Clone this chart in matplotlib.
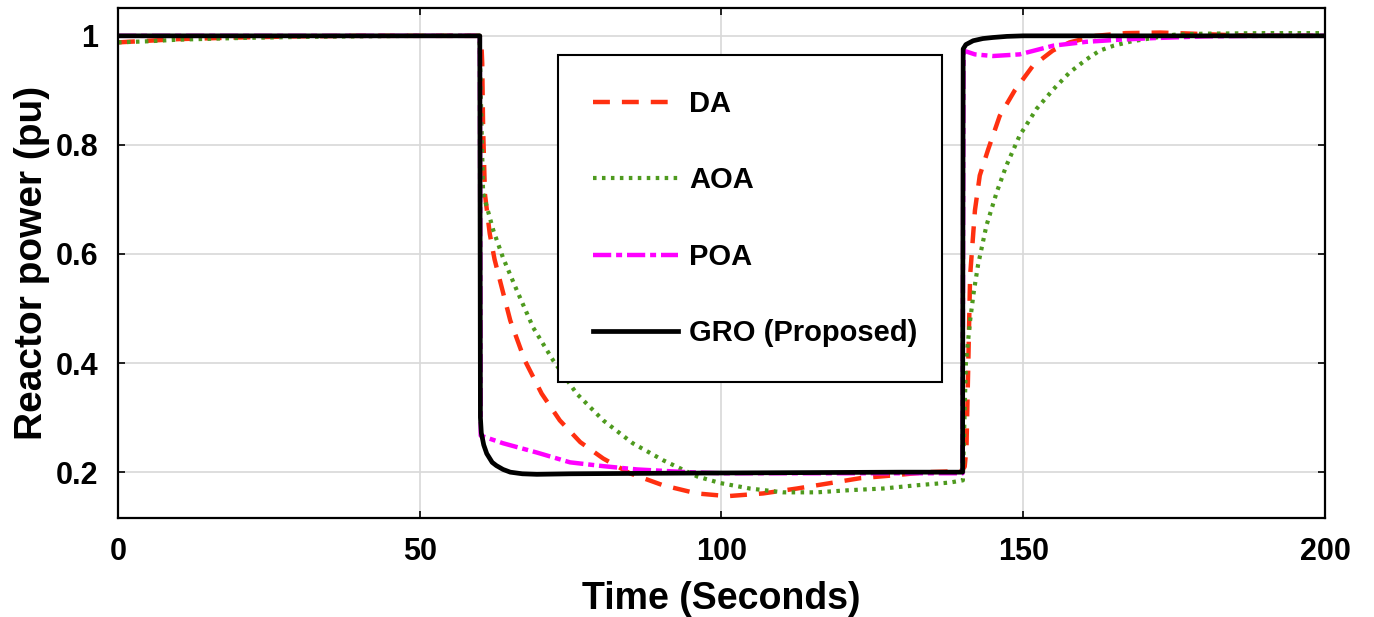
import matplotlib
matplotlib.use("Agg")
import matplotlib.pyplot as plt

plt.rcParams['font.family'] = ['Liberation Sans', 'DejaVu Sans']
plt.rcParams['font.weight'] = 'bold'

# DA (dashed red)
t_da = [0, 5, 10, 20, 30, 40, 50, 59.9, 60.2, 60.35, 60.5, 60.8, 61.6, 62.4, 63.3, 65, 67.4, 70.2,
        73.2, 76.6, 80.4, 84.8, 90.3, 95.9, 101, 106.9, 112.5, 117.5, 123, 128.4, 134, 139.8,
        140.3, 140.6, 140.9, 141.2, 142.0, 142.8, 144.2, 146.1, 148.6, 151.6, 154.9, 157.7, 162,
        167, 172.7, 178, 185, 192, 200]
da = [0.988, 0.991, 0.994, 0.997, 0.999, 1.0, 1.0, 1.0, 0.99, 0.95, 0.83, 0.71, 0.637, 0.59, 0.551,
      0.478, 0.405, 0.344, 0.295, 0.255, 0.225, 0.198, 0.176, 0.161, 0.156, 0.161, 0.17, 0.179,
      0.189, 0.194, 0.2, 0.202, 0.21, 0.246, 0.4, 0.56, 0.68, 0.744, 0.792, 0.853, 0.9, 0.945,
      0.973, 0.988, 1.0, 1.005, 1.006, 1.004, 1.001, 1.0, 1.0]

# AOA (dotted green)
t_aoa = [0, 5, 10, 20, 30, 40, 50, 59.9, 60.2, 60.5, 62.2, 63.8, 66.1, 68.8, 72.1, 76, 80.4, 85.3,
         90.3, 96, 99.8, 104.7, 110.2, 115.8, 121.3, 126.8, 132.4, 137.9, 140, 140.5, 141.2,
         141.8, 142.5, 143.9, 145.6, 147.2, 149.4, 152.2, 155, 157.7, 160.5, 162.7, 165, 168,
         175, 180, 190, 200]
aoa = [0.988, 0.99, 0.993, 0.996, 0.998, 0.999, 1.0, 1.0, 0.85, 0.711, 0.643, 0.593, 0.533, 0.465,
       0.405, 0.344, 0.295, 0.253, 0.222, 0.192, 0.18, 0.17, 0.163, 0.163, 0.167, 0.17, 0.176,
       0.181, 0.185, 0.4, 0.478, 0.53, 0.579, 0.652, 0.713, 0.762, 0.817, 0.866, 0.902, 0.933,
       0.957, 0.973, 0.982, 0.99, 1.002, 1.004, 1.005, 1.005]

# POA (dash-dot magenta)
t_poa = [0, 59.95, 60.1, 63.8, 69.4, 74.9, 80.4, 86, 94.3, 100, 110, 120, 130, 139.95, 140.1,
         142, 145, 149.4, 155, 160.4, 166, 172, 180, 190, 200]
poa = [1.0, 1.0, 0.267, 0.253, 0.236, 0.218, 0.211, 0.205, 0.2, 0.198, 0.198, 0.198, 0.198, 0.198,
       0.973, 0.966, 0.963, 0.966, 0.982, 0.989, 0.993, 0.996, 0.999, 1.0, 1.0]

# GRO (Proposed, solid black)
t_gro = [0, 59.95, 60.05, 60.2, 60.6, 61.1, 62.0, 62.7, 63.8, 65, 67, 69.4, 75, 90, 110, 130,
         139.95, 140.05, 140.5, 141.7, 143.3, 145, 147.3, 150, 160, 200]
gro = [1.0, 1.0, 0.3, 0.272, 0.25, 0.234, 0.218, 0.212, 0.205, 0.2, 0.197, 0.196, 0.197, 0.198,
       0.199, 0.2, 0.2, 0.976, 0.984, 0.991, 0.995, 0.997, 0.999, 1.0, 1.0, 1.0]

fig = plt.figure(figsize=(13.74, 6.17), dpi=100)
ax = fig.add_axes([0.0859, 0.1605, 0.8784, 0.8265])

ax.plot(t_da, da, color='#FF3010', lw=3.2, linestyle=(0, (3.8, 2.7)), label='DA')
ax.plot(t_aoa, aoa, color='#4E9A1E', lw=3.0, linestyle=(0, (0.85, 1.3)), label='AOA')
ax.plot(t_poa, poa, color='#FF00FF', lw=3.2, linestyle=(0, (4.1, 1.1, 1.35, 1.1)), label='POA')
ax.plot(t_gro, gro, color='black', lw=3.4, solid_joinstyle='round', label='GRO (Proposed)')

ax.set_xlim(0, 200)
ax.set_ylim(0.116, 1.051)
ax.set_xticks([0, 50, 100, 150, 200])
ax.set_yticks([0.2, 0.4, 0.6, 0.8, 1.0])
ax.set_yticklabels(['0.2', '0.4', '0.6', '0.8', '1'])
ax.tick_params(direction='in', length=5, width=1.2, top=True, right=True,
               labelsize=22, pad=14)
ax.grid(True, color='#D8D8D8', lw=1.2)
for s in ax.spines.values():
    s.set_linewidth(1.6)

ax.set_xlabel('Time (Seconds)', fontsize=27, fontweight='bold', labelpad=10)
ax.set_ylabel('Reactor power (pu)', fontsize=28, fontweight='bold', labelpad=4)

leg = ax.legend(loc='upper left', bbox_to_anchor=(0.3645, 0.29, 0.318, 0.618), mode='expand',
                borderaxespad=0, fontsize=21, frameon=True, fancybox=False, framealpha=1,
                edgecolor='black', handlelength=2.9, handletextpad=0.4, labelspacing=1.66,
                borderpad=1.2)
leg.get_frame().set_linewidth(1.5)
for txt in leg.get_texts():
    txt.set_fontweight('bold')

plt.savefig('out.png', dpi=100)
